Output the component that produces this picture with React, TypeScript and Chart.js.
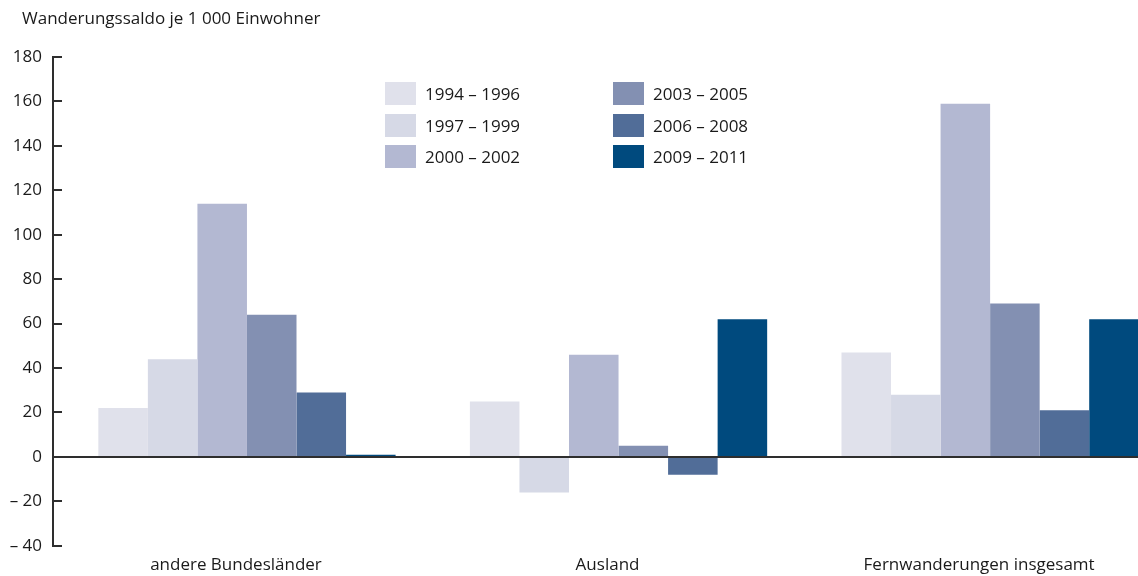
import React, { useEffect, useRef } from "react";
import { Chart, registerables } from "chart.js";

Chart.register(...registerables);

const categories = ["andere Bundesländer", "Ausland", "Fernwanderungen insgesamt"];
const seriesLabels = ["1994 – 1996", "1997 – 1999", "2000 – 2002", "2003 – 2005", "2006 – 2008", "2009 – 2011"];
const seriesColors = ["#e0e1eb", "#d6d9e6", "#b3b8d2", "#8390b2", "#516d98", "#004a7e"];
const s1994 = [22, 25, 47];
const s1997 = [44, -16, 28];
const s2000 = [114, 46, 159];
const s2003 = [64, 5, 69];
const s2006 = [29, -8, 21];
const s2009 = [1, 62, 62];
const seriesValues = [s1994, s1997, s2000, s2003, s2006, s2009];
const yTicks = [-40, -20, 0, 20, 40, 60, 80, 100, 120, 140, 160, 180];
const yTitle = "Wanderungssaldo je 1 000 Einwohner";

const FONT = "'Open Sans', 'Noto Sans', sans-serif";
const AXIS = "#2e2e2e";

export default function App() {
  const ref = useRef<HTMLCanvasElement | null>(null);

  useEffect(() => {
    if (!ref.current) return;
    const chart = new Chart(ref.current, {
      type: "bar",
      data: {
        datasets: seriesLabels.map((label, i) => ({
          label,
          data: seriesValues[i].map((v, j) => ({ x: j, y: v })),
          backgroundColor: seriesColors[i],
          borderWidth: 0,
          categoryPercentage: 0.8,
          barPercentage: 1.0,
        })),
      },
      options: {
        animation: false,
        responsive: false,
        layout: { padding: { top: 57, right: 0, bottom: 0, left: 0 } },
        plugins: { legend: { display: false }, tooltip: { enabled: false } },
        scales: {
          x: {
            type: "linear",
            offset: false,
            bounds: "ticks",
            min: -0.522,
            max: 2.398,
            grid: { display: false, offset: false },
            border: { display: false },
            afterBuildTicks: (scale: any) => {
              scale.ticks = categories.map((_, i) => ({ value: i }));
            },
            afterFit: (scale: any) => {
              scale.height = 29;
            },
            ticks: {
              autoSkip: false,
              maxRotation: 0,
              padding: 1,
              labelOffset: -11,
              color: "#1a1a1a",
              font: { family: FONT, size: 17 },
              callback: (v: any) => categories[Math.round(Number(v))] ?? "",
            },
          },
          y: {
            type: "linear",
            min: -40,
            max: 180,
            afterBuildTicks: (scale: any) => {
              scale.ticks = yTicks.map((v) => ({ value: v }));
            },
            afterFit: (scale: any) => {
              scale.width = 53;
            },
            border: { display: true, color: AXIS, width: 2 },
            grid: {
              drawOnChartArea: true,
              drawTicks: true,
              tickLength: -9,
              color: (ctx: any) => (ctx.tick && ctx.tick.value === 0 ? AXIS : "rgba(0,0,0,0)"),
              lineWidth: 2,
              tickColor: AXIS,
              tickWidth: 2,
            },
            ticks: {
              padding: 20,
              color: "#1a1a1a",
              font: { family: FONT, size: 17 },
              callback: (v: any) => (Number(v) < 0 ? "– " + Math.abs(Number(v)) : String(v)),
            },
          },
        },
      },
    });
    return () => chart.destroy();
  }, []);

  return (
    <div style={{ position: "absolute", left: 0, top: 0, width: 1138, height: 576, background: "#fff", overflow: "hidden", fontFamily: FONT }}>
      <canvas ref={ref} width={1138} height={576} style={{ position: "absolute", left: 0, top: 0, width: 1138, height: 576 }} />
      <div style={{ position: "absolute", left: 22, top: 6, fontSize: 17, color: "#1a1a1a", whiteSpace: "nowrap" }}>{yTitle}</div>
      {seriesLabels.map((label, i) => {
        const col = Math.floor(i / 3);
        const row = i % 3;
        return (
          <div key={label} style={{ position: "absolute", left: 385 + col * 228, top: 82 + row * 31.5, height: 23, display: "flex", alignItems: "center", whiteSpace: "nowrap" }}>
            <div style={{ width: 31, height: 23, background: seriesColors[i] }} />
            <span style={{ marginLeft: 9, fontSize: 17, color: "#1a1a1a" }}>{label}</span>
          </div>
        );
      })}
    </div>
  );
}
